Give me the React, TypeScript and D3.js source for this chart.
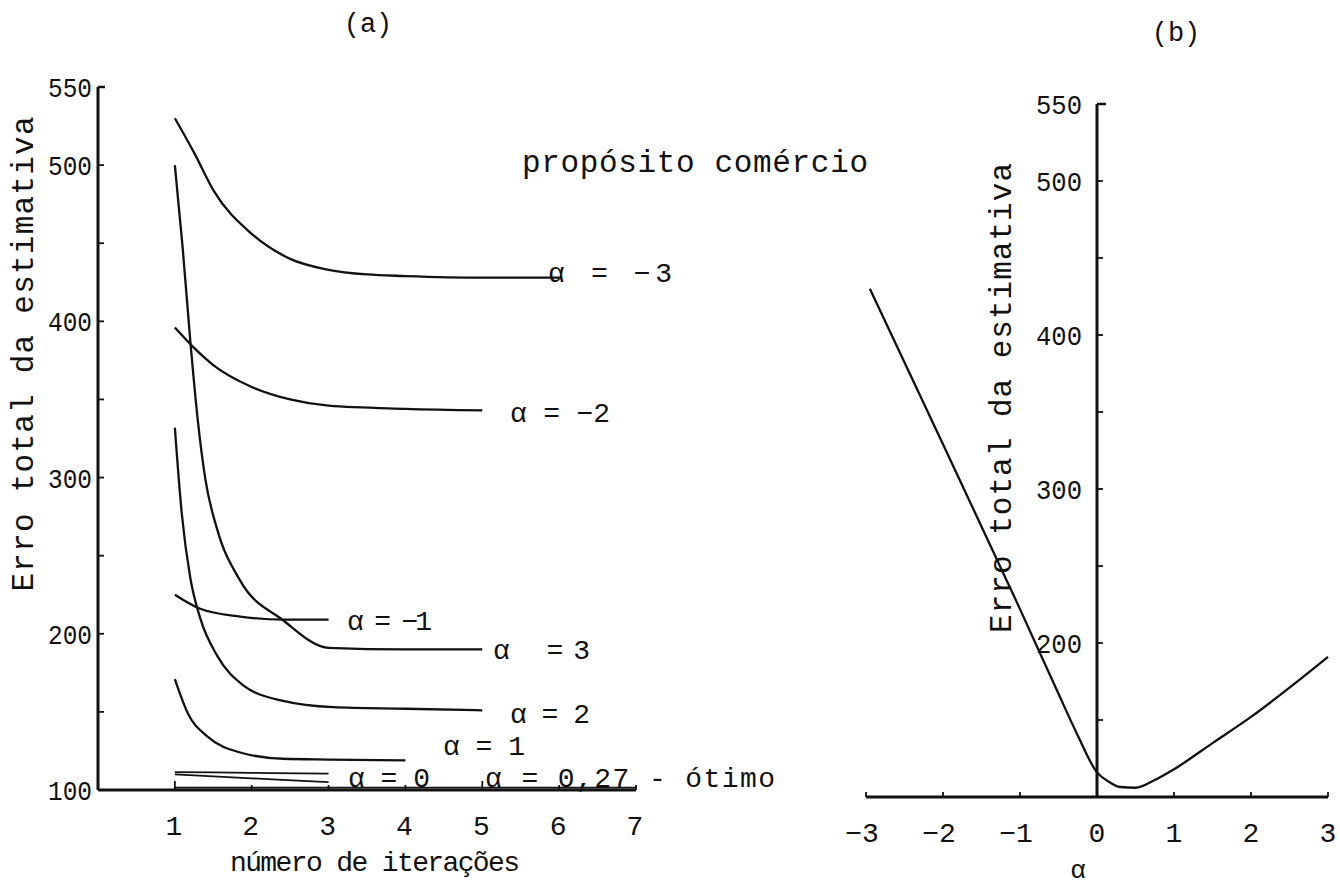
import React from "react";
import * as d3 from "d3";

// ---------- data (panel a: error vs number of iterations) ----------
const iterTicks = [1, 2, 3, 4, 5, 6, 7];
const errTicksMajor = [100, 200, 300, 400, 500, 550];
const errTicksMinor = [150, 250, 350, 450];

const curveAlphaM3: [number, number][] = [[1, 530], [1.25, 508], [1.5, 484], [2, 456], [2.5, 440], [3, 433], [3.5, 430], [4, 429], [5, 428], [6, 428]];
const curveAlphaM2: [number, number][] = [[1, 396], [1.25, 383], [1.5, 372], [2, 358], [2.5, 350], [3, 346], [4, 344], [5, 343]];
const curveAlphaM1: [number, number][] = [[1, 225], [1.33, 216], [1.85, 211], [2.41, 209], [3, 209]];
const curveAlpha3: [number, number][] = [[1, 500], [1.1, 448], [1.2, 388], [1.3, 336], [1.4, 298], [1.55, 267], [1.85, 234], [2.4, 209], [3, 191], [4, 190], [5, 190]];
const curveAlpha2: [number, number][] = [[1, 332], [1.09, 277], [1.2, 236], [1.33, 210], [1.55, 186], [1.89, 167], [2.41, 157], [3.06, 153], [4, 152], [5, 151]];
const curveAlpha1: [number, number][] = [[1, 171], [1.17, 149], [1.43, 134], [1.85, 124], [2.41, 120], [3, 119.5], [4, 119]];
const curveAlpha0a: [number, number][] = [[1, 111.5], [2, 111], [3, 110.5]];
const curveAlpha0b: [number, number][] = [[1, 110], [2, 107.5], [3, 105]];
const curveAlphaOpt: [number, number][] = [[1, 101.5], [3, 101.5], [5, 101.5], [7, 101.5]];

const curveLabelsA = ["α = −3", "α = −2", "α = −1", "α   = 3", "α = 2", "α = 1", "α = 0", "α = 0,27 - ótimo"];

// ---------- data (panel b: error vs alpha) ----------
const alphaTicks = [-3, -2, -1, 0, 1, 2, 3];
const alphaTickLabels = ["−3", "−2", "−1", "0", "1", "2", "3"];
const errTicksMajorB = [200, 300, 400, 500, 550];
const errTicksMinorB = [150, 250, 350, 450];
const curveB: [number, number][] = [[-2.95, 430], [-2, 329], [-1, 222], [-0.5, 167], [-0.25, 140], [0, 116], [0.15, 110], [0.3, 106.5], [0.5, 106], [0.75, 111], [1, 118], [1.5, 135], [2, 152], [2.5, 171], [3, 191]];

const FONT = "'Liberation Mono', 'DejaVu Sans Mono', monospace";

export default function App() {
  // panel (a) scales
  const xA = d3.scaleLinear().domain([0, 7]).range([98, 636]);
  const yA = d3.scaleLinear().domain([100, 550]).range([790, 87]);
  // panel (b) scales
  const xB = d3.scaleLinear().domain([-3, 3]).range([866, 1328]);
  const yB = d3.scaleLinear().domain([100, 550]).range([797, 104]);

  const lineA = d3
    .line<[number, number]>()
    .x((d) => xA(d[0]))
    .y((d) => yA(d[1]))
    .curve(d3.curveMonotoneX);
  const lineB = d3
    .line<[number, number]>()
    .x((d) => xB(d[0]))
    .y((d) => yB(d[1]))
    .curve(d3.curveMonotoneX);

  const curvesA = [curveAlphaM3, curveAlphaM2, curveAlphaM1, curveAlpha3, curveAlpha2, curveAlpha1, curveAlpha0a, curveAlpha0b, curveAlphaOpt];

  // label placement (pixel layout)
  const labelPos = [
    { x: 548, y: 282, w: 124 },
    { x: 510, y: 422, w: 100 },
    { x: 347, y: 630, w: 85 },
    { x: 493, y: 659, w: 97 },
    { x: 510, y: 723, w: 80 },
    { x: 443, y: 755, w: 82 },
    { x: 348, y: 787, w: 82 },
    { x: 485, y: 787, w: 290 },
  ];

  const stroke = "#111";

  return (
    <svg
      width={1340}
      height={885}
      style={{ position: "absolute", left: 0, top: 0, background: "#fff" }}
      fontFamily={FONT}
    >
      <rect x={0} y={0} width={1340} height={885} fill="#fff" />

      {/* ---------------- panel (a) ---------------- */}
      <text x={368} y={32} fontSize={27} textAnchor="middle" fill={stroke}>(a)</text>

      {/* y axis */}
      <line x1={xA(0)} x2={xA(0)} y1={yA(100)} y2={yA(550)} stroke={stroke} strokeWidth={3} />
      <line x1={xA(0)} x2={xA(0) + 7} y1={yA(550)} y2={yA(550)} stroke={stroke} strokeWidth={2.5} />
      {errTicksMajor.concat(errTicksMinor).filter((t) => t !== 100 && t !== 550).map((t) => (
        <line key={"ya" + t} x1={xA(0)} x2={xA(0) + 6} y1={yA(t)} y2={yA(t)} stroke={stroke} strokeWidth={1.8} />
      ))}
      {errTicksMajor.map((t) => (
        <text key={"yal" + t} x={92} y={yA(t) + 10} fontSize={27} textAnchor="end" fill={stroke} textLength={44} lengthAdjust="spacingAndGlyphs">{t}</text>
      ))}
      <text
        transform={`translate(33,354) rotate(-90)`}
        fontSize={31}
        textAnchor="middle"
        fill={stroke}
        textLength={475}
        lengthAdjust="spacing"
      >
        Erro total da estimativa
      </text>

      {/* x axis */}
      <line x1={xA(0)} x2={xA(7)} y1={yA(100)} y2={yA(100)} stroke={stroke} strokeWidth={3} />
      {iterTicks.map((t) => (
        <line key={"xa" + t} x1={xA(t)} x2={xA(t)} y1={yA(100)} y2={yA(100) - (t === 1 || t === 5 ? 9 : 5)} stroke={stroke} strokeWidth={1.8} />
      ))}
      {iterTicks.map((t) => (
        <text key={"xal" + t} x={xA(t) - 1} y={835} fontSize={28} textAnchor="middle" fill={stroke}>{t}</text>
      ))}
      <text x={375} y={871} fontSize={28} textAnchor="middle" fill={stroke} textLength={290} lengthAdjust="spacing">
        número de iterações
      </text>

      {/* curves */}
      {curvesA.map((c, i) => (
        <path key={"ca" + i} d={lineA(c) || ""} fill="none" stroke={stroke} strokeWidth={i >= 6 ? 1.8 : 2.3} />
      ))}
      {curveLabelsA.map((lab, i) => (
        <text
          key={"la" + i}
          x={labelPos[i].x}
          y={labelPos[i].y}
          fontSize={28}
          fill={stroke}
          textLength={labelPos[i].w}
          lengthAdjust="spacing"
          style={{ whiteSpace: "pre" }}
        >
          {lab}
        </text>
      ))}
      <text x={522} y={172} fontSize={31} fill={stroke} textLength={346} lengthAdjust="spacing">
        propósito comércio
      </text>

      {/* ---------------- panel (b) ---------------- */}
      <text x={1176} y={41} fontSize={27} textAnchor="middle" fill={stroke}>(b)</text>

      <line x1={xB(0)} x2={xB(0)} y1={yB(100)} y2={yB(550)} stroke={stroke} strokeWidth={3} />
      <line x1={xB(0)} x2={xB(0) + 9} y1={yB(550)} y2={yB(550)} stroke={stroke} strokeWidth={2.5} />
      {errTicksMajorB.concat(errTicksMinorB).filter((t) => t !== 550).map((t) => (
        <line key={"yb" + t} x1={xB(0)} x2={xB(0) + 6} y1={yB(t)} y2={yB(t)} stroke={stroke} strokeWidth={1.8} />
      ))}
      {errTicksMajorB.map((t) => (
        <text key={"ybl" + t} x={1082} y={yB(t) + 10} fontSize={27} textAnchor="end" fill={stroke} textLength={46} lengthAdjust="spacingAndGlyphs">{t}</text>
      ))}
      <text
        transform={`translate(1011,398) rotate(-90)`}
        fontSize={31}
        textAnchor="middle"
        fill={stroke}
        textLength={470}
        lengthAdjust="spacing"
      >
        Erro total da estimativa
      </text>

      <line x1={xB(-3)} x2={xB(3)} y1={yB(100)} y2={yB(100)} stroke={stroke} strokeWidth={3} />
      {alphaTicks.map((t) => (
        <line key={"xb" + t} x1={xB(t)} x2={xB(t)} y1={yB(100)} y2={yB(100) - 5} stroke={stroke} strokeWidth={1.8} />
      ))}
      {alphaTicks.map((t, i) => (
        <text key={"xbl" + t} x={xB(t) + (t < 0 ? -4 : 0)} y={842} fontSize={28} textAnchor="middle" fill={stroke}>
          {alphaTickLabels[i]}
        </text>
      ))}
      <text x={1078} y={878} fontSize={26} textAnchor="middle" fill={stroke}>α</text>

      <path d={lineB(curveB) || ""} fill="none" stroke={stroke} strokeWidth={2.3} />
    </svg>
  );
}
